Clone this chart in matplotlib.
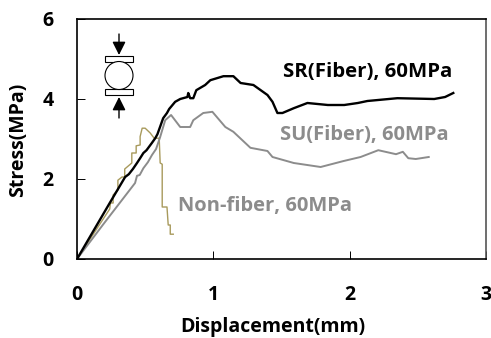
import matplotlib
matplotlib.use("Agg")
import matplotlib.pyplot as plt
from matplotlib.patches import Rectangle, Circle, FancyArrowPatch
from matplotlib.transforms import Affine2D

plt.rcParams['font.family'] = ['Open Sans', 'DejaVu Sans']

# Curvas
sr_x = [0, 0.12, 0.24, 0.353, 0.38, 0.41, 0.44, 0.463, 0.487, 0.51, 0.549, 0.574, 0.59, 0.61, 0.632, 0.66, 0.676, 0.72,
        0.757, 0.81, 0.816, 0.83, 0.853, 0.875, 0.94, 0.978, 1.074, 1.147, 1.2, 1.294, 1.397, 1.434, 1.47, 1.507,
        1.59, 1.69, 1.84, 1.96, 2.06, 2.13, 2.35, 2.62, 2.7, 2.76]
sr_y = [0, 0.70, 1.40, 2.05, 2.12, 2.25, 2.40, 2.52, 2.65, 2.72, 2.90, 3.02, 3.12, 3.31, 3.52, 3.65, 3.75, 3.93,
        4.00, 4.05, 4.15, 4.02, 4.02, 4.22, 4.35, 4.47, 4.57, 4.57, 4.40, 4.35, 4.10, 3.93, 3.65, 3.65,
        3.77, 3.90, 3.85, 3.85, 3.90, 3.95, 4.02, 4.00, 4.05, 4.15]

su_x = [0, 0.20, 0.426, 0.44, 0.46, 0.487, 0.52, 0.55, 0.58, 0.61, 0.647, 0.69, 0.757, 0.83, 0.853, 0.926, 0.993, 1.088,
        1.147, 1.272, 1.397, 1.434, 1.59, 1.787, 1.956, 2.08, 2.21, 2.34, 2.39, 2.43, 2.485, 2.58]
su_y = [0, 0.90, 1.90, 2.08, 2.10, 2.27, 2.42, 2.60, 2.75, 3.05, 3.47, 3.60, 3.30, 3.30, 3.47, 3.65, 3.68, 3.30,
        3.18, 2.78, 2.70, 2.55, 2.40, 2.30, 2.45, 2.55, 2.72, 2.62, 2.68, 2.52, 2.50, 2.55]

nf_x = [0, 0.24, 0.245, 0.265, 0.265, 0.30, 0.30, 0.33, 0.35, 0.35, 0.402, 0.402, 0.434, 0.434, 0.463, 0.463, 0.478,
        0.50, 0.537, 0.566, 0.603, 0.61, 0.625, 0.625, 0.66, 0.669, 0.684, 0.684, 0.706]
nf_y = [0, 1.25, 1.40, 1.40, 1.60, 1.72, 1.97, 2.05, 2.05, 2.25, 2.40, 2.65, 2.65, 2.83, 2.85, 3.06, 3.27,
        3.27, 3.15, 3.02, 3.02, 2.40, 2.37, 1.30, 1.30, 0.85, 0.85, 0.62, 0.62]

x_ticks = [0, 1, 2, 3]
y_ticks = [0, 2, 4, 6]

W, H = 491, 338
fig = plt.figure(figsize=(W / 100, H / 100), dpi=100)
ax = fig.add_axes([77 / W, 1 - 259 / H, 409 / W, 240 / H])

ax.plot(nf_x, nf_y, color="#a89a5c", lw=1.0)
ax.plot(su_x, su_y, color="#8c8c8c", lw=1.4)
ax.plot(sr_x, sr_y, color="black", lw=1.7)

ax.set_xlim(0, 3)
ax.set_ylim(0, 6)
ax.set_xticks(x_ticks)
ax.set_yticks(y_ticks)
ax.tick_params(direction="in", length=6, width=0.7, labelsize=14)
ax.tick_params(axis="x", pad=18.5)
ax.tick_params(axis="y", pad=17)
for lab in ax.get_xticklabels() + ax.get_yticklabels():
    lab.set_fontweight("bold")
for s in ["left", "bottom", "top"]:
    ax.spines[s].set_linewidth(1.2)
ax.spines["right"].set_linewidth(1.2)
ax.spines["right"].set_color("#555555")

ax.set_xlabel("Displacement(mm)", fontsize=14, fontweight="bold", va="center")
ax.set_ylabel("Stress(MPa)", fontsize=14, fontweight="bold", va="center")
ax.xaxis.set_label_coords(0.478, -0.283)
ax.yaxis.set_label_coords(-0.144, 0.498)

ax.text(2.13, 4.68, "SR(Fiber), 60MPa", fontsize=14.7, fontweight="bold", color="black", ha="center", va="center")
ax.text(2.105, 3.1, "SU(Fiber), 60MPa", fontsize=14.5, fontweight="bold", color="#8c8c8c", ha="center", va="center")
ax.text(1.38, 1.33, "Non-fiber, 60MPa", fontsize=14.5, fontweight="bold", color="#8c8c8c", ha="center", va="center")

# Esquema de la probeta, en pixeles de la figura
px = Affine2D().scale(1, -1).translate(0, H)
fig.add_artist(Rectangle((105, 56), 28, 6, fc="white", ec="black", lw=0.8, transform=px))
fig.add_artist(Rectangle((105, 89), 28, 6, fc="white", ec="black", lw=0.8, transform=px))
fig.add_artist(Circle((119, 75.5), 14, fc="white", ec="black", lw=0.8, transform=px))
for y0, y1 in [(34, 55), (118, 97)]:
    fig.add_artist(FancyArrowPatch((119, y0), (119, y1), arrowstyle="-|>,head_length=0.4,head_width=0.2",
                                   mutation_scale=20, color="black", lw=1.0, shrinkA=0, shrinkB=0, transform=px))

fig.savefig("out.png", dpi=100)
